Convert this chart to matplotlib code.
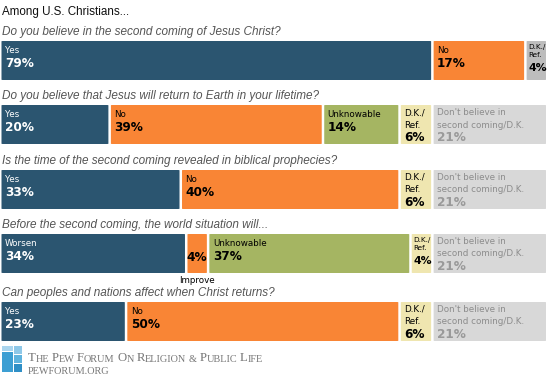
import matplotlib
matplotlib.use("Agg")
import matplotlib.pyplot as plt
from matplotlib.patches import FancyBboxPatch, Rectangle

# data
title = "Among U.S. Christians..."
questions = [
    "Do you believe in the second coming of Jesus Christ?",
    "Do you believe that Jesus will return to Earth in your lifetime?",
    "Is the time of the second coming revealed in biblical prophecies?",
    "Before the second coming, the world situation will...",
    "Can peoples and nations affect when Christ returns?",
]
row_labels = [
    ["Yes", "No", "D.K./\nRef."],
    ["Yes", "No", "Unknowable", "D.K./\nRef.", "Don't believe in\nsecond coming/D.K."],
    ["Yes", "No", "D.K./\nRef.", "Don't believe in\nsecond coming/D.K."],
    ["Worsen", "Improve", "Unknowable", "D.K./\nRef.", "Don't believe in\nsecond coming/D.K."],
    ["Yes", "No", "D.K./\nRef.", "Don't believe in\nsecond coming/D.K."],
]
row_values = [
    [79, 17, 4],
    [20, 39, 14, 6, 21],
    [33, 40, 6, 21],
    [34, 4, 37, 4, 21],
    [23, 50, 6, 21],
]

BLUE = "#2b5570"
ORANGE = "#f98535"
GREEN = "#a5b562"
YELLOW = "#efe6b0"
GREY = "#d8d8d8"
GREY_DK = "#bdbdbd"


def seg_style(label, labels):
    # returns (face colour, text colour)
    if label in ("Yes", "Worsen"):
        return BLUE, "white"
    if label in ("No", "Improve"):
        return ORANGE, "black"
    if label == "Unknowable":
        return GREEN, "black"
    if label.startswith("D.K."):
        if len(labels) == 3:
            return GREY_DK, "black"
        return YELLOW, "black"
    return GREY, "#8c8c8c"


fig = plt.figure(figsize=(5.5, 3.82), dpi=100)
ax = fig.add_axes([0, 0, 1, 1])
px = 5.47  # pixels per percent
ax.set_xlim(-1.5 / px, 548.5 / px)
ax.set_ylim(382, 0)
ax.axis("off")

gap = 2.5 / px
bar_h = 39
tops = [41, 105, 170, 234, 302]

ax.text(1 / px, 12, title, fontsize=8.4, family="Liberation Sans",
        va="center", ha="left", color="#111111")

for i, (q, labels, vals) in enumerate(zip(questions, row_labels, row_values)):
    top = tops[i]
    ax.text(1 / px, top - 9, q, fontsize=8.5, family="Liberation Sans",
            style="italic", va="center", ha="left", color="#555555")
    left = 0
    for lab, v in zip(labels, vals):
        fc, tc = seg_style(lab, labels)
        w = v - gap
        box = FancyBboxPatch((left, top), w, bar_h,
                             boxstyle="round,pad=0,rounding_size=0.3",
                             mutation_aspect=1 / 0.183 * 0.18,
                             fc=fc, ec="none")
        ax.add_patch(box)
        tx = left + 3.5 / px
        pct = f"{v}%"
        if lab == "Improve":
            ax.text(left + w / 2, top + 17, pct, fontsize=8.7, weight="bold",
                    family="DejaVu Sans", color=tc, ha="center", va="top")
            ax.text(left + w / 2, top + bar_h + 3, lab, fontsize=6.3,
                    family="DejaVu Sans", color="black", ha="center", va="top")
        elif lab.startswith("D.K.") and v <= 4:
            ax.text(tx - 1.5 / px, top + 3, lab, fontsize=5.2, family="DejaVu Sans",
                    color=tc, ha="left", va="top", linespacing=1.45)
            ax.text(tx - 1.5 / px, top + 22, pct, fontsize=7.8, weight="bold",
                    family="DejaVu Sans", color=tc, ha="left", va="top")
        elif "\n" in lab:
            ax.text(tx, top + 3, lab, fontsize=6.3, family="DejaVu Sans",
                    color=tc, ha="left", va="top", linespacing=1.5)
            ax.text(tx, top + 26, pct, fontsize=8.7, weight="bold",
                    family="DejaVu Sans", color=tc if tc != "#8c8c8c" else "#999999",
                    ha="left", va="top")
        else:
            ax.text(tx, top + 5, lab, fontsize=6.3, family="DejaVu Sans",
                    color=tc, ha="left", va="top")
            ax.text(tx, top + 16, pct, fontsize=8.7, weight="bold",
                    family="DejaVu Sans", color=tc, ha="left", va="top")
        left += v

# footer logo
logo = [
    (0, 352, 11, 20, "#3d9fd3"),
    (12, 346, 8, 8, "#8ec8e8"),
    (0, 346, 11, 5, "#a9d5ee"),
    (12, 355, 8, 8, "#5fb3de"),
    (12, 364, 8, 8, "#2f8fc6"),
]
for x, y, w, h, c in logo:
    ax.add_patch(Rectangle((x / px, y), w / px, h, fc=c, ec="none"))


def small_caps(x, y, text, big=9.2, small=7.4, color="#777777"):
    prev = None
    for word_i, word in enumerate(text.split(" ")):
        pieces = []
        if word_i > 0:
            pieces.append((" ", small))
        if word[0].isalpha():
            pieces.append((word[0], big))
            if len(word) > 1:
                pieces.append((word[1:], small))
        else:
            pieces.append((word, small))
        for s, fs in pieces:
            if prev is None:
                prev = ax.text(x, y, s, fontsize=fs, family="Liberation Serif",
                               color=color, ha="left", va="bottom")
            else:
                prev = ax.annotate(s, xy=(1, 0), xycoords=prev, fontsize=fs,
                                   family="Liberation Serif", color=color,
                                   ha="left", va="bottom")


small_caps(26 / px, 364, "THE PEW FORUM ON RELIGION & PUBLIC LIFE")
ax.text(26 / px, 376, "PEWFORUM.ORG", fontsize=7.4, family="Liberation Serif",
        color="#777777", ha="left", va="bottom")

fig.savefig("out.png", dpi=100, facecolor="white")
